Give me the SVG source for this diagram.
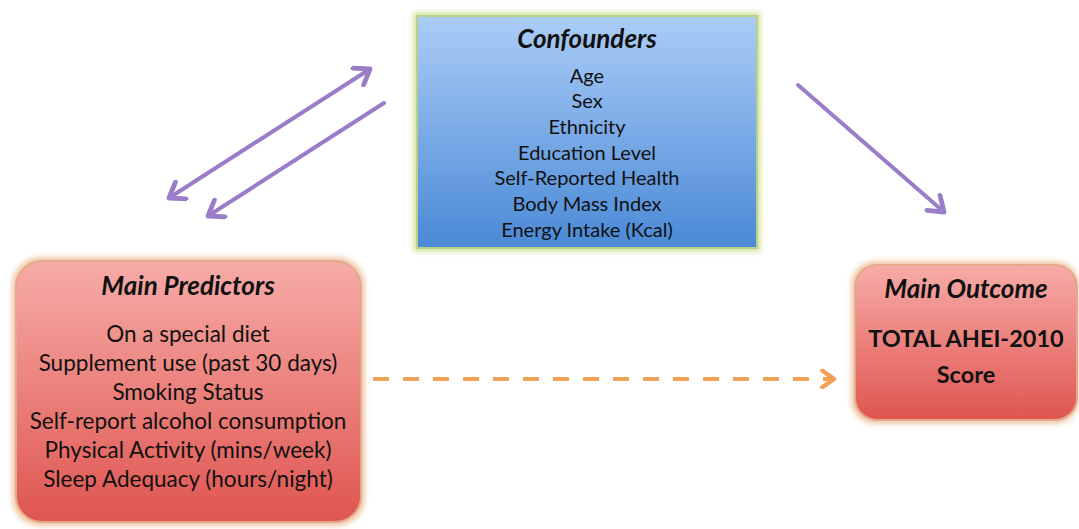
<svg xmlns="http://www.w3.org/2000/svg" width="1079" height="529" viewBox="0 0 1079 529">
<defs>
<linearGradient id="blueG" x1="0" y1="0" x2="0" y2="1"><stop offset="0" stop-color="#abcdf7"/><stop offset="1" stop-color="#4a89d6"/></linearGradient>
<linearGradient id="redG" x1="0" y1="0" x2="0" y2="1"><stop offset="0" stop-color="#f7aca8"/><stop offset="1" stop-color="#df5550"/></linearGradient>
<filter id="glow" x="-10%" y="-10%" width="120%" height="120%"><feGaussianBlur stdDeviation="2.5"/></filter>
<filter id="soft" x="-10%" y="-10%" width="120%" height="120%"><feGaussianBlur stdDeviation="0.7"/></filter>
<marker id="purpleHead" viewBox="0 0 12 12" refX="9" refY="6" markerWidth="6" markerHeight="6" orient="auto-start-reverse" markerUnits="strokeWidth"><path d="M2,1 L9,6 L2,11" fill="none" stroke="#9a7cc9" stroke-width="2.4" stroke-linecap="round" stroke-linejoin="round"/></marker>
<marker id="orangeHead" viewBox="0 0 12 12" refX="9" refY="6" markerWidth="5" markerHeight="5" orient="auto" markerUnits="strokeWidth"><path d="M2,1 L9,6 L2,11" fill="none" stroke="#f2a254" stroke-width="2.6" stroke-linecap="round" stroke-linejoin="round"/></marker>
</defs>
<style>
.t{font-family:"Lato","Open Sans","Liberation Sans",sans-serif;fill:#111111;text-anchor:middle}
.title{font-weight:bold;font-style:italic;font-size:26px}
.item{font-size:20px}
.pitem{font-size:22.5px}
.big{font-size:23.5px;font-weight:bold}
.purple{stroke:#9a7cc9;stroke-width:4;fill:none;stroke-linecap:round}
.orange{stroke:#f2a254;stroke-width:4;fill:none;stroke-dasharray:16 14}
</style>
<rect width="1079" height="529" fill="#ffffff"/>
<g id="confounders">
<rect x="413" y="12" width="348" height="240" fill="#d6e6a6" filter="url(#glow)"/>
<rect x="417" y="16" width="340" height="232" fill="url(#blueG)" stroke="#b8d088" stroke-width="2"/>
<text class="t title" x="587" y="48">Confounders</text>
<text class="t item" x="587" y="83">Age</text>
<text class="t item" x="587" y="108">Sex</text>
<text class="t item" x="587" y="134">Ethnicity</text>
<text class="t item" x="587" y="160">Education Level</text>
<text class="t item" x="587" y="185">Self-Reported Health</text>
<text class="t item" x="587" y="211">Body Mass Index</text>
<text class="t item" x="587" y="237">Energy Intake (Kcal)</text>
</g>
<g id="predictors">
<rect x="12" y="257" width="353" height="269" rx="28" fill="#f0c9a8" filter="url(#glow)"/>
<rect x="16" y="261" width="345" height="261" rx="26" fill="url(#redG)" stroke="#e4a88c" stroke-width="2"/>
<text class="t title" x="188" y="295">Main Predictors</text>
<text class="t pitem" x="188" y="342">On a special diet</text>
<text class="t pitem" x="188" y="371">Supplement use (past 30 days)</text>
<text class="t pitem" x="188" y="400">Smoking Status</text>
<text class="t pitem" x="188" y="429">Self-report alcohol consumption</text>
<text class="t pitem" x="188" y="458">Physical Activity (mins/week)</text>
<text class="t pitem" x="188" y="487">Sleep Adequacy (hours/night)</text>
</g>
<g id="outcome">
<rect x="851" y="261" width="228" height="163" rx="24" fill="#f0c9a8" filter="url(#glow)"/>
<rect x="855" y="265" width="222" height="155" rx="22" fill="url(#redG)" stroke="#e4a88c" stroke-width="2"/>
<text class="t title" x="966" y="298">Main Outcome</text>
<text class="t big" x="966" y="347">TOTAL AHEI-2010</text>
<text class="t big" x="966" y="383">Score</text>
</g>
<g id="connectors" filter="url(#soft)">
<line class="purple" x1="169" y1="198" x2="370" y2="69" marker-start="url(#purpleHead)" marker-end="url(#purpleHead)"/>
<line class="purple" x1="384" y1="103" x2="208" y2="216" marker-end="url(#purpleHead)"/>
<line class="purple" x1="798" y1="85" x2="944" y2="212" marker-end="url(#purpleHead)"/>
<line class="orange" x1="373" y1="379" x2="834" y2="379" marker-end="url(#orangeHead)"/>
</g>
</svg>
